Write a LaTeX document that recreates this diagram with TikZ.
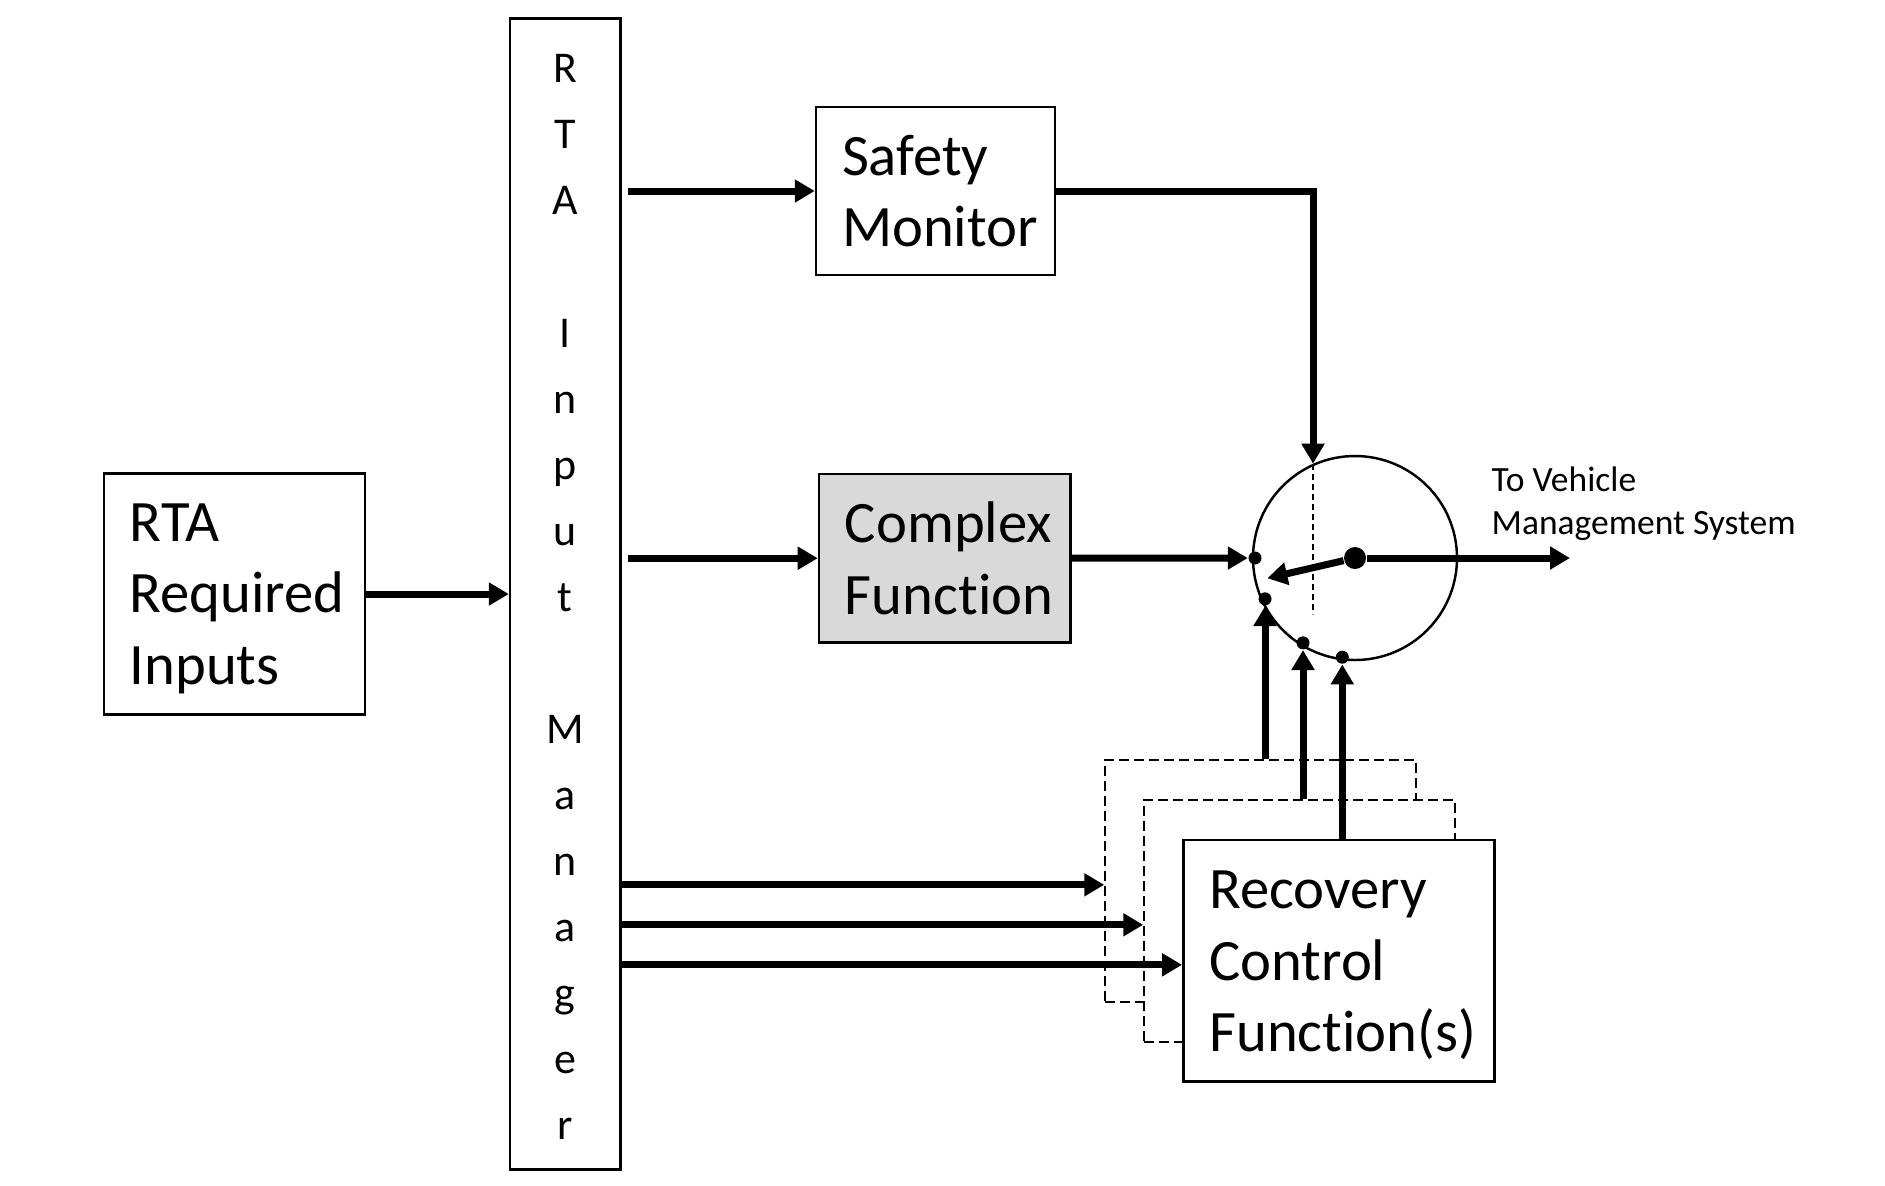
\documentclass[tikz,border=0pt]{standalone}
\usepackage{fontspec}
\setmainfont{Carlito}
\usetikzlibrary{arrows.meta}
\definecolor{cfgray}{HTML}{D9D9D9}

\begin{document}
\begin{tikzpicture}[
		blk/.style={draw, line width=0.7pt, fill=white, align=left, inner xsep=0.26cm, inner ysep=0pt, font=\fontsize{16.7}{20.3}\selectfont},
		dblk/.style={draw, fill=white, line width=0.6pt, dash pattern=on 0.1cm off 0.05cm, minimum width=3.11cm, minimum height=2.417cm},
		arr/.style={line width=2pt, -{Triangle[length=0.2cm,width=0.22cm]}},
		dot/.style={circle, fill, inner sep=0pt, minimum size=0.13cm},
		hubdot/.style={circle, fill, inner sep=0pt, minimum size=0.22cm}]
	\useasboundingbox (0,0) rectangle (18.85,-11.85);
	
	\node[blk, text width=2.095cm, minimum height=2.41cm] (inp) at (2.345,-5.94) {\rule{0pt}{0.47cm}RTA\\Required\\Inputs};
	\node[draw, line width=0.7pt, align=center, minimum width=1.105cm, minimum height=11.51cm, font=\fontsize{12.5}{18.8}\selectfont] (mgr) at (5.653,-5.938) {\rule{0pt}{0.35cm}R\\T\\A\\\mbox{}\\I\\n\\p\\u\\t\\\mbox{}\\M\\a\\n\\a\\g\\e\\r};
	\node[blk, text width=1.87cm, minimum height=1.68cm] (safe) at (9.355,-1.91) {Safety\\Monitor};
	\node[blk, fill=cfgray, text width=1.997cm, minimum height=1.683cm] (cplx) at (9.448,-5.582) {Complex\\Func\mbox{t}ion};
	
	% switch
	\node[draw, circle, line width=0.7pt, inner sep=0pt, minimum size=2.04cm] (sw) at (13.55,-5.58) {};
	\node[hubdot] (hub) at (sw.center) {};
	\node[dot] (d1) at ([shift={(180:1.0)}]sw.center) {};
	\node[dot] (d2) at ([shift={(204.4:0.988)}]sw.center) {};
	\node[dot] (d3) at ([shift={(238.5:0.995)}]sw.center) {};
	\node[dot] (d4) at ([shift={(262.7:1.0)}]sw.center) {};
	\coordinate (armtip) at ([shift={(193:0.9)}]sw.center);
	\coordinate (vmsout) at (15.70,-5.58);
	\node[anchor=north west, inner sep=0pt, align=left, font=\fontsize{10.1}{12.3}\selectfont] (vms) at (14.91,-4.66) {To Vehicle\\Management System};
	
	% recovery control stack
	\node[dblk] (rc1) at (12.608,-8.808) {};
	\node[dblk] (rc2) at (12.998,-9.208) {};
	\node[blk, text width=2.59cm, minimum height=2.417cm] (rc) at (13.388,-9.608) {\rule{0pt}{0.47cm}Recovery\\Control\\Func\mbox{t}ion(s)};
	
	\draw[arr] (inp.east) -- (inp.east -| mgr.west);
	\draw[arr] ([xshift=0.06cm]safe.west -| mgr.east) -- (safe.west);
	\draw[arr] ([xshift=0.06cm]cplx.west -| mgr.east) -- (cplx.west);
	\draw[arr] ([yshift=-0.04cm]mgr.east |- rc1.west) -- ([yshift=-0.04cm]rc1.west);
	\draw[arr] ([yshift=-0.04cm]mgr.east |- rc2.west) -- ([yshift=-0.04cm]rc2.west);
	\draw[arr] ([yshift=-0.04cm]mgr.east |- rc.west) -- ([yshift=-0.04cm]rc.west);
	
	\draw[arr] (safe.east) -| (sw.114.5);
	\draw[line width=0.4pt, dash pattern=on 0.06cm off 0.04cm] (sw.114.5) -- ++(0,-1.5);
	\draw[arr] (cplx.east) -- (d1);
	\draw[arr] (rc1.north -| d2) -- (d2);
	\draw[arr] (rc2.north -| d3) -- (d3);
	\draw[arr] (rc.north -| d4) -- (d4);
	\draw[arr] (hub) -- (armtip);
	\draw[arr] (hub) -- (vmsout);
\end{tikzpicture}
\end{document}
